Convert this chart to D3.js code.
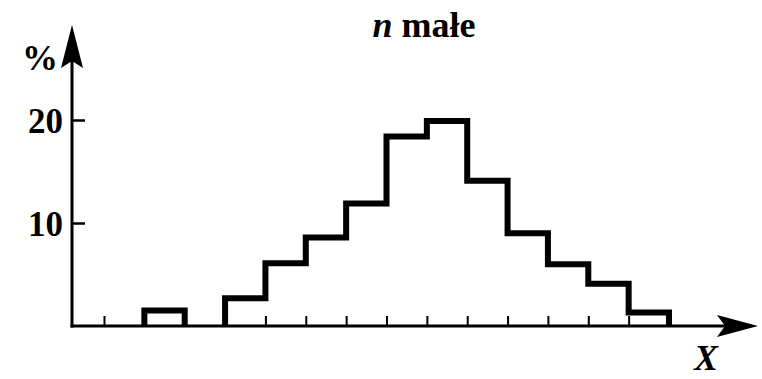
<!DOCTYPE html>
<html>
<head>
<meta charset="utf-8">
<script src="https://cdn.jsdelivr.net/npm/d3@7"></script>
<style>
  body { margin: 0; background: #fff; }
  svg text { font-family: "Liberation Serif", "DejaVu Serif", serif; fill: #000; }
</style>
</head>
<body>
<svg width="762" height="379"></svg>
<script>
// histogram bins, index of left edge on the x scale
var binStart = [1, 2, 3, 4, 5, 6, 7, 8, 9, 10, 11, 12, 13];
var percent  = [1.5, 0, 2.7, 6.1, 8.6, 11.9, 18.4, 19.9, 14.1, 9.0, 6.0, 4.1, 1.3];
var xTicks = [0, 1, 2, 3, 4, 5, 6, 7, 8, 9, 10, 11, 12, 13];
var yTicks = [10, 20];
var title = "małe";

var svg = d3.select("svg"),
    width = +svg.attr("width"),
    height = +svg.attr("height");

var x = d3.scaleLinear().domain([0, 14]).range([104, 669]);
var y = d3.scaleLinear().domain([0, 20]).range([326, 120]);

var x0 = 72, y0 = y(0);

// x ticks (pointing up, no labels)
var xAxis = svg.append("g")
    .attr("transform", "translate(0," + y0 + ")")
    .call(d3.axisBottom(x).tickValues(xTicks).tickSize(-10).tickFormat(""));
xAxis.select(".domain").remove();
xAxis.selectAll("line").attr("stroke", "#000").attr("stroke-width", 2);

// y ticks (pointing right) and labels
var yAxis = svg.append("g")
    .attr("transform", "translate(" + x0 + ",0)")
    .call(d3.axisLeft(y).tickValues(yTicks).tickSize(-13).tickPadding(9));
yAxis.select(".domain").remove();
yAxis.selectAll("line").attr("stroke", "#000").attr("stroke-width", 2.5);
yAxis.selectAll("text")
    .style("font-size", "35px")
    .style("font-weight", "bold")
    .attr("font-family", null)
    .attr("dy", "0.36em");

// axis lines
svg.append("line")
    .attr("x1", x0).attr("y1", y0 + 1.5)
    .attr("x2", x0).attr("y2", 50)
    .attr("stroke", "#000").attr("stroke-width", 3);
svg.append("line")
    .attr("x1", x0 - 1.5).attr("y1", y0)
    .attr("x2", 735).attr("y2", y0)
    .attr("stroke", "#000").attr("stroke-width", 3);

// arrow heads
svg.append("path")
    .attr("d", "M" + x0 + ",25 L" + (x0 + 11) + ",68 L" + x0 + ",61 L" + (x0 - 11) + ",68 Z")
    .attr("fill", "#000");
svg.append("path")
    .attr("d", "M758," + y0 + " L717," + (y0 - 11) + " L725," + y0 + " L717," + (y0 + 11) + " Z")
    .attr("fill", "#000");

// histogram outline: one path per run of non-empty bins
var runs = [], cur = null;
binStart.forEach(function(b, i) {
    if (percent[i] > 0) {
        if (!cur) { cur = [[b, 0]]; runs.push(cur); }
        cur.push([b, percent[i]], [b + 1, percent[i]]);
    } else if (cur) {
        cur.push([cur[cur.length - 1][0], 0]);
        cur = null;
    }
});
if (cur) cur.push([cur[cur.length - 1][0], 0]);

var line = d3.line()
    .x(function(d) { return x(d[0]); })
    .y(function(d) { return y(d[1]); });

svg.append("g")
    .selectAll("path")
    .data(runs)
    .enter().append("path")
    .attr("d", line)
    .attr("fill", "none")
    .attr("stroke", "#000")
    .attr("stroke-width", 6)
    .attr("stroke-linejoin", "miter");

// labels
svg.append("text")
    .attr("x", 22).attr("y", 70)
    .style("font-size", "36px").style("font-weight", "bold")
    .text("%");

var t = svg.append("text")
    .attr("x", 424).attr("y", 37)
    .attr("text-anchor", "middle")
    .style("font-size", "36px").style("font-weight", "bold");
t.append("tspan").style("font-style", "italic").text("n");
t.append("tspan").text(" " + title);

svg.append("text")
    .attr("x", 694).attr("y", 370)
    .style("font-size", "36px").style("font-weight", "bold").style("font-style", "italic")
    .text("X");
</script>
</body>
</html>
